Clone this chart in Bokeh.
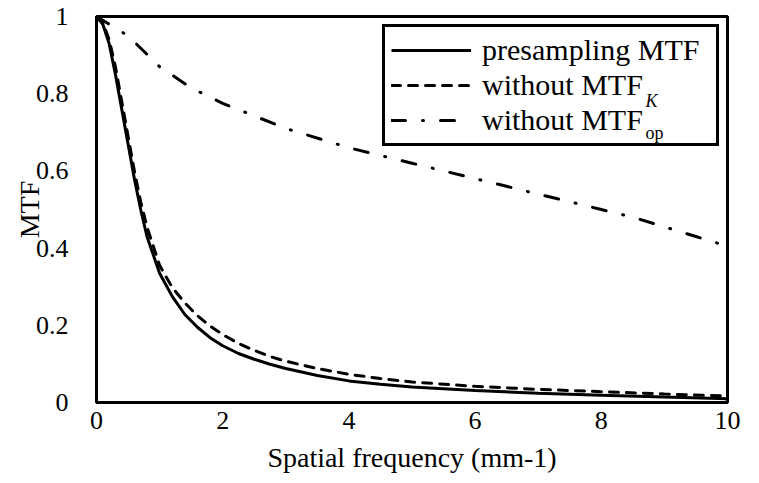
from bokeh.plotting import figure
from bokeh.models import Legend, LegendItem, Label, FixedTicker, NumeralTickFormatter, Range1d
from bokeh.embed import file_html
from bokeh.resources import INLINE

# ---- data ----
freq_pre = [0, 0.1, 0.2, 0.3, 0.4, 0.5, 0.6, 0.7, 0.8, 1.0, 1.2, 1.4, 1.6, 1.8, 2.0,
            2.25, 2.5, 2.75, 3.0, 3.5, 4.0, 4.5, 5.0, 6.0, 7.0, 8.0, 9.0, 10.0]
mtf_pre = [1.0, 0.98, 0.93, 0.85, 0.76, 0.67, 0.58, 0.50, 0.43, 0.335, 0.275, 0.228, 0.195, 0.168, 0.147,
           0.127, 0.112, 0.099, 0.088, 0.07, 0.056, 0.047, 0.04, 0.031, 0.024, 0.019, 0.014, 0.01]

freq_k = [0, 0.1, 0.2, 0.3, 0.4, 0.5, 0.6, 0.7, 0.8, 1.0, 1.2, 1.4, 1.6, 1.8, 2.0,
          2.25, 2.5, 2.75, 3.0, 3.5, 4.0, 4.5, 5.0, 6.0, 7.0, 8.0, 9.0, 10.0]
mtf_k = [1.0, 0.985, 0.94, 0.87, 0.78, 0.69, 0.60, 0.52, 0.455, 0.355, 0.298, 0.258, 0.225, 0.198, 0.176,
         0.153, 0.135, 0.119, 0.107, 0.088, 0.073, 0.062, 0.053, 0.042, 0.034, 0.028, 0.022, 0.017]

freq_op = [0, 0.5, 1.0, 1.5, 2.0, 3.0, 4.0, 5.0, 6.0, 7.0, 8.0, 8.5, 9.0, 9.5, 10.0]
mtf_op = [1.0, 0.95, 0.87, 0.815, 0.775, 0.71, 0.66, 0.62, 0.58, 0.54, 0.50, 0.48, 0.455, 0.43, 0.405]

x_ticks = [0, 2, 4, 6, 8, 10]
y_ticks = [0, 0.2, 0.4, 0.6, 0.8, 1.0]
legend_labels = ["presampling MTF", "without MTF", "without MTF"]
legend_subs = ["", "K", "op"]
x_title = "Spatial frequency (mm-1)"
y_title = "MTF"

FONT = "Liberation Serif"

p = figure(width=750, height=475, output_backend="svg", toolbar_location=None,
           x_range=Range1d(0, 10), y_range=Range1d(0, 1),
           min_border_left=96, min_border_right=23, min_border_top=16, min_border_bottom=73)
p.background_fill_color = "white"
p.border_fill_color = "white"
p.outline_line_color = "black"
p.outline_line_width = 3
p.xgrid.visible = False
p.ygrid.visible = False

for ax in (p.xaxis[0], p.yaxis[0]):
    ax.axis_line_color = "black"
    ax.axis_line_width = 3
    ax.major_tick_line_color = None
    ax.minor_tick_line_color = None
    ax.major_label_text_font = FONT
    ax.major_label_text_font_size = "26px"
    ax.major_label_text_color = "black"
    ax.axis_label_text_font = FONT
    ax.axis_label_text_font_size = "28px"
    ax.axis_label_text_font_style = "normal"
    ax.axis_label_text_color = "black"

p.xaxis.ticker = FixedTicker(ticks=x_ticks)
p.yaxis.ticker = FixedTicker(ticks=y_ticks)
p.yaxis.formatter = NumeralTickFormatter(format="0.[0]")
p.xaxis.axis_label = x_title
p.yaxis.axis_label = y_title
p.xaxis.major_label_standoff = 3
p.yaxis.major_label_standoff = 22
p.xaxis.axis_label_standoff = 10
p.yaxis.axis_label_standoff = -12

r1 = p.line(freq_pre, mtf_pre, line_color="black", line_width=3)
r2 = p.line(freq_k, mtf_k, line_color="black", line_width=3, line_dash="9 8", line_cap="round")
r3 = p.line(freq_op, mtf_op, line_color="black", line_width=3, line_dash="14 17 1 17", line_cap="round")

legend = Legend(items=[LegendItem(label=legend_labels[0], renderers=[r1]),
                       LegendItem(label=legend_labels[1], renderers=[r2]),
                       LegendItem(label=legend_labels[2], renderers=[r3])],
                location=(286, 256))
legend.label_text_font = FONT
legend.label_text_font_size = "30px"
legend.label_text_color = "black"
legend.glyph_width = 80
legend.glyph_height = 30
legend.label_height = 30
legend.label_width = 228
legend.label_standoff = 11
legend.spacing = 1
legend.padding = 6
legend.margin = 0
legend.border_line_color = "black"
legend.border_line_width = 3
legend.border_line_alpha = 1
legend.background_fill_alpha = 0
p.add_layout(legend)

# subscripts for the legend labels
p.add_layout(Label(x=549, y=302, x_units="screen", y_units="screen", text=legend_subs[1],
                   text_font=FONT, text_font_size="18px", text_font_style="italic", text_color="black",
                   text_baseline="alphabetic", level="overlay"))
p.add_layout(Label(x=549, y=270, x_units="screen", y_units="screen", text=legend_subs[2],
                   text_font=FONT, text_font_size="18px", text_color="black",
                   text_baseline="alphabetic", level="overlay"))

open("out.html", "w").write(file_html(p, INLINE))
